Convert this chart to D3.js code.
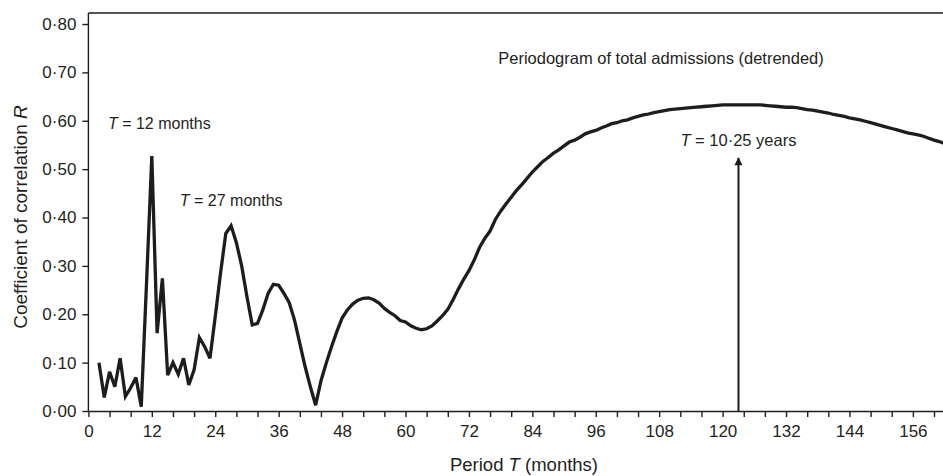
<!DOCTYPE html>
<html>
<head>
<meta charset="utf-8">
<script src="https://cdn.jsdelivr.net/npm/d3@7"></script>
<style>
  body { margin: 0; background: #fff; }
  svg { display: block; }
  text { font-family: "Liberation Sans", Arial, Helvetica, sans-serif; fill: #231f20; }
</style>
</head>
<body>
<svg id="chart" width="943" height="476"></svg>
<script>
// Periodogram: correlation coefficient R for each trial period T (months)
const firstPeriod = 2;
const correlation = [
  0.100, 0.028, 0.081, 0.050, 0.109, 0.030, 0.048, 0.069, 0.009, 0.265, // 2-11
  0.527, 0.161, 0.274, 0.074, 0.100, 0.076, 0.109, 0.054, 0.085, 0.152, // 12-21
  0.133, 0.109, 0.195, 0.285, 0.367, 0.383, 0.348, 0.300, 0.236, 0.178, // 22-31
  0.181, 0.209, 0.243, 0.262, 0.260, 0.243, 0.224, 0.188, 0.140, 0.092, // 32-41
  0.050, 0.012, 0.062, 0.099, 0.133, 0.164, 0.192, 0.209, 0.221, 0.229, // 42-51
  0.233, 0.234, 0.230, 0.223, 0.212, 0.204, 0.197, 0.187, 0.184, 0.176, // 52-61
  0.171, 0.168, 0.170, 0.176, 0.186, 0.197, 0.210, 0.230, 0.252, 0.272, // 62-71
  0.290, 0.312, 0.338, 0.357, 0.372, 0.396, 0.413, 0.428, 0.442, 0.456, // 72-81
  0.468, 0.481, 0.494, 0.505, 0.516, 0.524, 0.533, 0.540, 0.548, 0.556, // 82-91
  0.560, 0.566, 0.573, 0.577, 0.580, 0.585, 0.589, 0.594, 0.596, 0.600, // 92-101
  0.602, 0.606, 0.609, 0.612, 0.614, 0.617, 0.619, 0.621, 0.623, 0.624, // 102-111
  0.625, 0.626, 0.627, 0.628, 0.629, 0.630, 0.631, 0.632, 0.633, 0.633, // 112-121
  0.633, 0.633, 0.633, 0.633, 0.633, 0.633, 0.632, 0.631, 0.630, 0.629, // 122-131
  0.628, 0.628, 0.627, 0.625, 0.623, 0.622, 0.620, 0.618, 0.616, 0.613, // 132-141
  0.611, 0.609, 0.606, 0.604, 0.602, 0.599, 0.596, 0.593, 0.590, 0.587, // 142-151
  0.584, 0.581, 0.578, 0.575, 0.573, 0.571, 0.568, 0.564, 0.560, 0.557, // 152-161
  0.553                                                                  // 162
];

const xMinorTicks = [0, 4, 8, 12, 16, 20, 24, 28, 32, 36, 40, 44, 48, 52, 56, 60, 64, 68, 72, 76, 80,
  84, 88, 92, 96, 100, 104, 108, 112, 116, 120, 124, 128, 132, 136, 140, 144, 148, 152, 156, 160];
const xLabelTicks = [0, 12, 24, 36, 48, 60, 72, 84, 96, 108, 120, 132, 144, 156];
const yTicks = [0.00, 0.10, 0.20, 0.30, 0.40, 0.50, 0.60, 0.70, 0.80];

// Annotated peak periods (label anchor: period, R)
const peakNotes = [
  { period: 3.7, value: 0.583, label: "12 months" },
  { period: 17.3, value: 0.424, label: "27 months" }
];
const longCycle = { period: 123, label: "10·25 years", arrowTop: 0.523, textAt: 0.547 };
const chartTitle = "Periodogram of total admissions (detrended)";

const data = correlation.map((r, i) => ({ period: firstPeriod + i, r }));

const svg = d3.select("#chart");
const W = 943, H = 476;
const yMax = 0.8228;

const x = d3.scaleLinear().domain([0, 161.7]).range([88.4, W]);
const y = d3.scaleLinear().domain([0, yMax]).range([411, 13]);

const ink = "#1d1d1b";

// clip so the series stops at the frame edge
const defs = svg.append("defs");
defs.append("clipPath").attr("id", "plot-clip")
  .append("rect").attr("x", x(0)).attr("y", y(yMax))
  .attr("width", W - x(0)).attr("height", y(0) - y(yMax));

// arrowhead pointing along the line direction
defs.append("marker")
  .attr("id", "arrowhead").attr("viewBox", "0 0 10 10")
  .attr("refX", 9).attr("refY", 5)
  .attr("markerWidth", 11).attr("markerHeight", 8)
  .attr("markerUnits", "userSpaceOnUse")
  .attr("orient", "auto")
  .append("path").attr("d", "M0,0 L10,5 L0,10 Z").attr("fill", ink);

// top frame line
svg.append("line")
  .attr("x1", x(0)).attr("x2", W)
  .attr("y1", y(yMax)).attr("y2", y(yMax))
  .attr("stroke", ink).attr("stroke-width", 1.4);

// x axis
const fmtPeriod = d => (xLabelTicks.includes(d) ? String(d) : "");
const xAxis = svg.append("g")
  .attr("transform", `translate(0,${y(0)})`)
  .call(d3.axisBottom(x).tickValues(xMinorTicks).tickFormat(fmtPeriod)
    .tickSize(6).tickSizeOuter(0).tickPadding(8));
xAxis.selectAll("path, line").attr("stroke", ink).attr("stroke-width", 1.4);
xAxis.selectAll("text").attr("font-size", 17).style("font-family", null).attr("fill", ink);

// y axis
const fmtR = d => d3.format(".2f")(d).replace(".", "·");
const yAxis = svg.append("g")
  .attr("transform", `translate(${x(0)},0)`)
  .call(d3.axisLeft(y).tickValues(yTicks).tickFormat(fmtR)
    .tickSize(6).tickSizeOuter(0).tickPadding(6));
yAxis.selectAll("path, line").attr("stroke", ink).attr("stroke-width", 1.4);
yAxis.selectAll("text").attr("font-size", 17).style("font-family", null).attr("fill", ink);
yAxis.select(".domain").attr("d", `M0,${y(0)}V${y(yMax)}`);

// axis titles
const xTitle = svg.append("text")
  .attr("x", 524).attr("y", 471)
  .attr("text-anchor", "middle").attr("font-size", 18.5);
xTitle.append("tspan").text("Period ");
xTitle.append("tspan").attr("font-style", "italic").text("T");
xTitle.append("tspan").text(" (months)");

const yTitle = svg.append("text")
  .attr("transform", `translate(27,217) rotate(-90)`)
  .attr("text-anchor", "middle").attr("font-size", 19);
yTitle.append("tspan").text("Coefficient of correlation ");
yTitle.append("tspan").attr("font-style", "italic").text("R");

// periodogram line
const line = d3.line().x(d => x(d.period)).y(d => y(d.r));
svg.append("path")
  .datum(data)
  .attr("clip-path", "url(#plot-clip)")
  .attr("fill", "none")
  .attr("stroke", ink)
  .attr("stroke-width", 3.3)
  .attr("stroke-linejoin", "miter")
  .attr("stroke-miterlimit", 3)
  .attr("d", line);

// peak annotations
function periodLabel(sel, text) {
  sel.append("tspan").attr("font-style", "italic").text("T");
  sel.append("tspan").text(" = " + text);
}
peakNotes.forEach(n => {
  svg.append("text").attr("x", x(n.period)).attr("y", y(n.value))
    .attr("font-size", 16).call(periodLabel, n.label);
});

// long-cycle arrow
svg.append("line")
  .attr("x1", x(longCycle.period)).attr("x2", x(longCycle.period))
  .attr("y1", y(0)).attr("y2", y(longCycle.arrowTop))
  .attr("stroke", ink).attr("stroke-width", 2)
  .attr("marker-end", "url(#arrowhead)");

svg.append("text").attr("x", x(longCycle.period)).attr("y", y(longCycle.textAt))
  .attr("text-anchor", "middle").attr("font-size", 16.5).call(periodLabel, longCycle.label);

// chart title
svg.append("text").attr("x", 661).attr("y", 64)
  .attr("text-anchor", "middle").attr("font-size", 16.5).text(chartTitle);
</script>
</body>
</html>
